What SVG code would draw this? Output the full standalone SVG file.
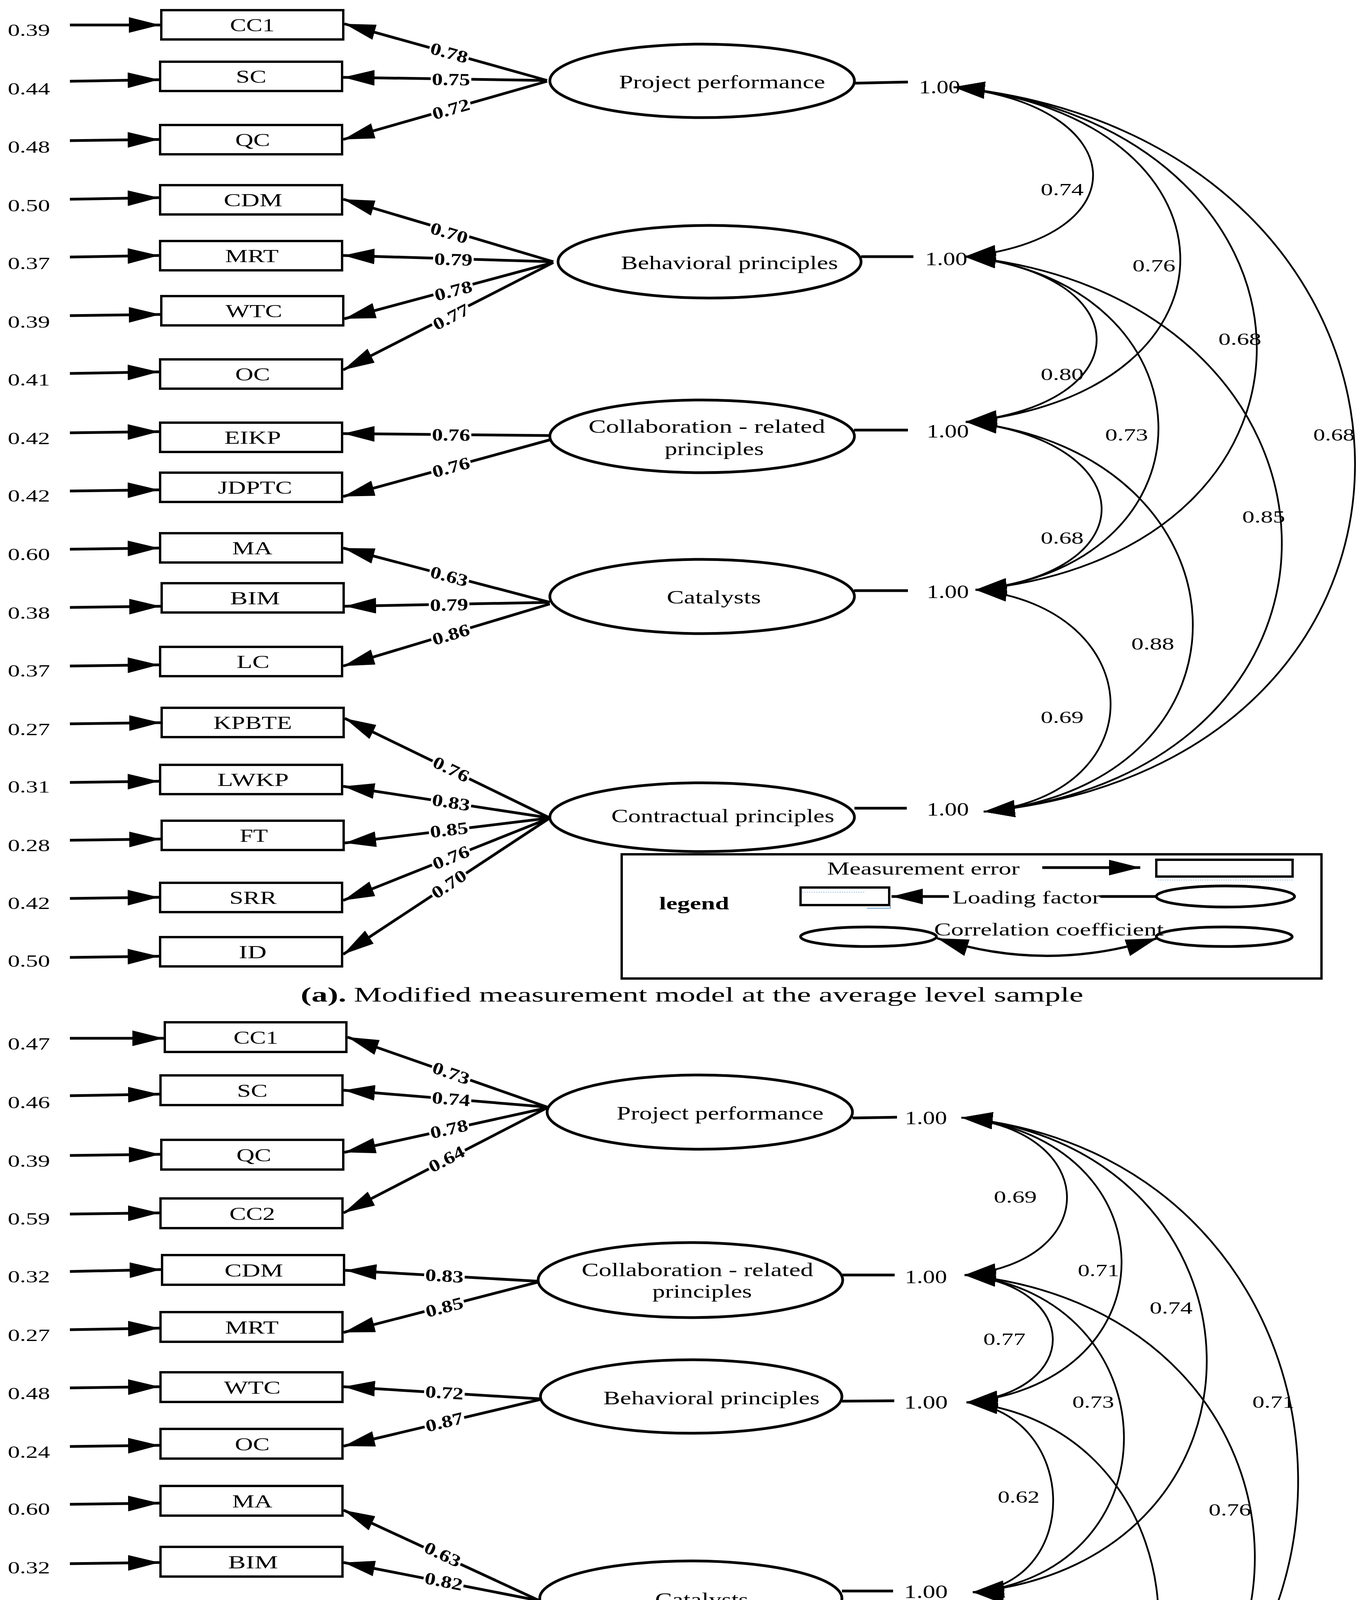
<svg xmlns="http://www.w3.org/2000/svg" width="3498" height="5303" viewBox="0 0 3498 5303">
<defs>
<style>
.bg{fill:#fff}
.box{fill:#fff;stroke:#000;stroke-width:6}
.lat{fill:#fff;stroke:#000;stroke-width:7}
.ln{fill:none;stroke:#000;stroke-width:7}
.arr{fill:none;stroke:#000;stroke-width:7;marker-end:url(#ah)}
.cor{fill:none;stroke:#000;stroke-width:4.5;marker-start:url(#ah2);marker-end:url(#ah2)}
.leg{fill:none;stroke:#000;stroke-width:6}
.t{font-family:"Liberation Serif","Times New Roman",serif;fill:#000}
.e{font-size:44px}
.b{font-size:46px;text-anchor:middle}
.l{font-size:48px;text-anchor:middle}
.n{font-size:48px}
.c{font-size:44px}
.k{font-size:44px;text-anchor:middle;font-weight:bold}
.g{font-size:46px}
.cap{font-size:52px}
.bold{font-weight:bold}
.mask{fill:#fff}
.blue{fill:none;stroke:#5b9bd5;stroke-width:2}
.bluedot{fill:none;stroke:#9dc3e6;stroke-width:2;stroke-dasharray:3 3}
</style>
<marker id="ah" viewBox="0 0 80 40" refX="80" refY="20" markerWidth="80" markerHeight="40" markerUnits="userSpaceOnUse" orient="auto"><path d="M0 0L80 20L0 40Z" fill="#000"/></marker>
<marker id="ah2" viewBox="0 0 80 44" refX="80" refY="22" markerWidth="80" markerHeight="44" markerUnits="userSpaceOnUse" orient="auto-start-reverse"><path d="M0 0L80 22L0 44Z" fill="#000"/></marker>
</defs>
<rect class="bg" width="3498" height="5303"/>

<g id="connectors">
<line class="arr" x1="179" y1="64" x2="410" y2="64"/>
<line class="arr" x1="179" y1="208" x2="407" y2="204"/>
<line class="arr" x1="179" y1="360" x2="407" y2="357"/>
<line class="arr" x1="179" y1="510" x2="407" y2="506"/>
<line class="arr" x1="179" y1="658" x2="407" y2="654"/>
<line class="arr" x1="179" y1="808" x2="410" y2="805"/>
<line class="arr" x1="179" y1="956" x2="407" y2="952"/>
<line class="arr" x1="179" y1="1108" x2="407" y2="1105"/>
<line class="arr" x1="179" y1="1257" x2="407" y2="1254"/>
<line class="arr" x1="179" y1="1406" x2="407" y2="1403"/>
<line class="arr" x1="179" y1="1555" x2="411" y2="1552"/>
<line class="arr" x1="179" y1="1705" x2="407" y2="1702"/>
<line class="arr" x1="179" y1="1853" x2="411" y2="1850"/>
<line class="arr" x1="179" y1="2003" x2="407" y2="2000"/>
<line class="arr" x1="179" y1="2151" x2="411" y2="2148"/>
<line class="arr" x1="179" y1="2300" x2="407" y2="2297"/>
<line class="arr" x1="179" y1="2451" x2="407" y2="2448"/>
<line class="arr" x1="179" y1="2658" x2="419" y2="2658"/>
<line class="arr" x1="179" y1="2805" x2="408" y2="2801"/>
<line class="arr" x1="179" y1="2958" x2="410" y2="2955"/>
<line class="arr" x1="179" y1="3108" x2="408" y2="3105"/>
<line class="arr" x1="179" y1="3255" x2="412" y2="3250"/>
<line class="arr" x1="179" y1="3404" x2="408" y2="3400"/>
<line class="arr" x1="179" y1="3553" x2="408" y2="3550"/>
<line class="arr" x1="179" y1="3703" x2="408" y2="3700"/>
<line class="arr" x1="179" y1="3851" x2="408" y2="3848"/>
<line class="arr" x1="179" y1="4003" x2="408" y2="4000"/>
<line class="arr" x1="179" y1="4150" x2="408" y2="4147"/>
<line class="arr" x1="179" y1="4298" x2="408" y2="4295"/>
<line class="arr" x1="179" y1="4449" x2="411" y2="4446"/>
<line class="arr" x1="179" y1="4597" x2="410" y2="4594"/>
<line class="arr" x1="179" y1="4746" x2="407" y2="4743"/>
<line class="arr" x1="179" y1="4896" x2="418" y2="4893"/>
<line class="arr" x1="179" y1="5045" x2="408" y2="5042"/>
<line class="arr" x1="179" y1="5163" x2="412" y2="5160"/>

<line class="arr" x1="1401" y1="206" x2="882" y2="61"/>
<line class="arr" x1="1401" y1="206" x2="879" y2="198"/>
<line class="arr" x1="1401" y1="208" x2="879" y2="357"/>
<line class="arr" x1="1417" y1="670" x2="879" y2="510"/>
<line class="arr" x1="1417" y1="670" x2="879" y2="654"/>
<line class="arr" x1="1417" y1="672" x2="882" y2="816"/>
<line class="arr" x1="1417" y1="672" x2="879" y2="947"/>
<line class="arr" x1="1408" y1="1115" x2="879" y2="1110"/>
<line class="arr" x1="1408" y1="1126" x2="879" y2="1271"/>
<line class="arr" x1="1408" y1="1542" x2="879" y2="1403"/>
<line class="arr" x1="1408" y1="1542" x2="883" y2="1552"/>
<line class="arr" x1="1408" y1="1546" x2="879" y2="1705"/>
<line class="arr" x1="1408" y1="2094" x2="883" y2="1839"/>
<line class="arr" x1="1408" y1="2094" x2="879" y2="2013"/>
<line class="arr" x1="1408" y1="2094" x2="883" y2="2158"/>
<line class="arr" x1="1408" y1="2094" x2="879" y2="2305"/>
<line class="arr" x1="1408" y1="2094" x2="879" y2="2443"/>
<line class="arr" x1="1401" y1="2834" x2="890" y2="2655"/>
<line class="arr" x1="1401" y1="2834" x2="880" y2="2791"/>
<line class="arr" x1="1401" y1="2836" x2="882" y2="2950"/>
<line class="arr" x1="1401" y1="2836" x2="880" y2="3105"/>
<line class="arr" x1="1378" y1="3280" x2="884" y2="3252"/>
<line class="arr" x1="1378" y1="3282" x2="880" y2="3411"/>
<line class="arr" x1="1382" y1="3581" x2="880" y2="3550"/>
<line class="arr" x1="1382" y1="3583" x2="880" y2="3702"/>
<line class="arr" x1="1382" y1="4098" x2="880" y2="3866"/>
<line class="arr" x1="1382" y1="4098" x2="880" y2="4000"/>
<line class="arr" x1="1382" y1="4100" x2="880" y2="4148"/>
<line class="arr" x1="1382" y1="4100" x2="880" y2="4299"/>
<line class="arr" x1="1382" y1="4673" x2="883" y2="4433"/>
<line class="arr" x1="1382" y1="4673" x2="882" y2="4594"/>
<line class="arr" x1="1382" y1="4675" x2="879" y2="4755"/>
<line class="arr" x1="1382" y1="4675" x2="890" y2="4899"/>
<line class="arr" x1="1382" y1="4675" x2="880" y2="5038"/>
<line class="arr" x1="1382" y1="4675" x2="884" y2="5152"/>

<line class="ln" x1="2187" y1="213" x2="2325" y2="210"/>
<line class="ln" x1="2205" y1="657" x2="2339" y2="657"/>
<line class="ln" x1="2187" y1="1101" x2="2325" y2="1101"/>
<line class="ln" x1="2187" y1="1512" x2="2325" y2="1512"/>
<line class="ln" x1="2188" y1="2069" x2="2322" y2="2069"/>
<line class="ln" x1="2183" y1="2862" x2="2297" y2="2860"/>
<line class="ln" x1="2157" y1="3264" x2="2291" y2="3264"/>
<line class="ln" x1="2156" y1="3587" x2="2290" y2="3586"/>
<line class="ln" x1="2156" y1="4073" x2="2287" y2="4073"/>
<line class="ln" x1="2156" y1="4678" x2="2296" y2="4677"/>

<path class="cor" d="M2442 223C2899 269 2927 611 2470 657"/>
<path class="cor" d="M2442 223C3195 298 3226 1005 2473 1080"/>
<path class="cor" d="M2442 223C3439 323 3495 1410 2498 1510"/>
<path class="cor" d="M2442 223C3760 355 3837 1946 2519 2078"/>
<path class="cor" d="M2470 657C2919 702 2922 1035 2473 1080"/>
<path class="cor" d="M2470 657C3113 721 3141 1446 2498 1510"/>
<path class="cor" d="M2470 657C3520 762 3569 1973 2519 2078"/>
<path class="cor" d="M2473 1080C2920 1125 2945 1465 2498 1510"/>
<path class="cor" d="M2473 1080C3217 1154 3263 2004 2519 2078"/>
<path class="cor" d="M2498 1510C2945 1555 2966 2033 2519 2078"/>
<path class="cor" d="M2462 2861C2817 2896 2825 3229 2470 3264"/>
<path class="cor" d="M2462 2861C3000 2915 3013 3536 2475 3590"/>
<path class="cor" d="M2462 2861C3280 2943 3309 3994 2491 4076"/>
<path class="cor" d="M2462 2861C3590 2974 3622 4572 2494 4685"/>
<path class="cor" d="M2470 3264C2768 3294 2773 3560 2475 3590"/>
<path class="cor" d="M2470 3264C3000 3317 3021 4023 2491 4076"/>
<path class="cor" d="M2470 3264C3445 3361 3469 4588 2494 4685"/>
<path class="cor" d="M2475 3590C2760 3619 2776 4047 2491 4076"/>
<path class="cor" d="M2475 3590C3118 3654 3137 4621 2494 4685"/>
<path class="cor" d="M2491 4076C2794 4106 2797 4655 2494 4685"/>

<g transform="translate(1150 136) rotate(15.4)"><rect class="mask" x="-52" y="-19" width="104" height="36"/><text class="t k" y="14" textLength="98" lengthAdjust="spacingAndGlyphs">0.78</text></g>
<g transform="translate(1155 204) rotate(0.6)"><rect class="mask" x="-52" y="-19" width="104" height="36"/><text class="t k" y="14" textLength="98" lengthAdjust="spacingAndGlyphs">0.75</text></g>
<g transform="translate(1155 280) rotate(-15.8)"><rect class="mask" x="-52" y="-19" width="104" height="36"/><text class="t k" y="14" textLength="98" lengthAdjust="spacingAndGlyphs">0.72</text></g>
<g transform="translate(1150 597) rotate(16.6)"><rect class="mask" x="-52" y="-19" width="104" height="36"/><text class="t k" y="14" textLength="98" lengthAdjust="spacingAndGlyphs">0.70</text></g>
<g transform="translate(1161 665) rotate(1.7)"><rect class="mask" x="-52" y="-19" width="104" height="36"/><text class="t k" y="14" textLength="98" lengthAdjust="spacingAndGlyphs">0.79</text></g>
<g transform="translate(1161 745) rotate(-14.8)"><rect class="mask" x="-52" y="-19" width="104" height="36"/><text class="t k" y="14" textLength="98" lengthAdjust="spacingAndGlyphs">0.78</text></g>
<g transform="translate(1155 812) rotate(-27)"><rect class="mask" x="-52" y="-19" width="104" height="36"/><text class="t k" y="14" textLength="98" lengthAdjust="spacingAndGlyphs">0.77</text></g>
<g transform="translate(1155 1114) rotate(0.5)"><rect class="mask" x="-52" y="-19" width="104" height="36"/><text class="t k" y="14" textLength="98" lengthAdjust="spacingAndGlyphs">0.76</text></g>
<g transform="translate(1155 1197) rotate(-15.2)"><rect class="mask" x="-52" y="-19" width="104" height="36"/><text class="t k" y="14" textLength="98" lengthAdjust="spacingAndGlyphs">0.76</text></g>
<g transform="translate(1150 1476) rotate(14.8)"><rect class="mask" x="-52" y="-19" width="104" height="36"/><text class="t k" y="14" textLength="98" lengthAdjust="spacingAndGlyphs">0.63</text></g>
<g transform="translate(1150 1549) rotate(-1.1)"><rect class="mask" x="-52" y="-19" width="104" height="36"/><text class="t k" y="14" textLength="98" lengthAdjust="spacingAndGlyphs">0.79</text></g>
<g transform="translate(1155 1625) rotate(-16.6)"><rect class="mask" x="-52" y="-19" width="104" height="36"/><text class="t k" y="14" textLength="98" lengthAdjust="spacingAndGlyphs">0.86</text></g>
<g transform="translate(1155 1970) rotate(25.9)"><rect class="mask" x="-52" y="-19" width="104" height="36"/><text class="t k" y="14" textLength="98" lengthAdjust="spacingAndGlyphs">0.76</text></g>
<g transform="translate(1155 2055) rotate(8.8)"><rect class="mask" x="-52" y="-19" width="104" height="36"/><text class="t k" y="14" textLength="98" lengthAdjust="spacingAndGlyphs">0.83</text></g>
<g transform="translate(1150 2125) rotate(-6.9)"><rect class="mask" x="-52" y="-19" width="104" height="36"/><text class="t k" y="14" textLength="98" lengthAdjust="spacingAndGlyphs">0.85</text></g>
<g transform="translate(1155 2196) rotate(-21.9)"><rect class="mask" x="-52" y="-19" width="104" height="36"/><text class="t k" y="14" textLength="98" lengthAdjust="spacingAndGlyphs">0.76</text></g>
<g transform="translate(1150 2264) rotate(-33.6)"><rect class="mask" x="-52" y="-19" width="104" height="36"/><text class="t k" y="14" textLength="98" lengthAdjust="spacingAndGlyphs">0.70</text></g>
<g transform="translate(1155 2748) rotate(19.2)"><rect class="mask" x="-52" y="-19" width="104" height="36"/><text class="t k" y="14" textLength="98" lengthAdjust="spacingAndGlyphs">0.73</text></g>
<g transform="translate(1155 2814) rotate(4.7)"><rect class="mask" x="-52" y="-19" width="104" height="36"/><text class="t k" y="14" textLength="98" lengthAdjust="spacingAndGlyphs">0.74</text></g>
<g transform="translate(1150 2891) rotate(-12.6)"><rect class="mask" x="-52" y="-19" width="104" height="36"/><text class="t k" y="14" textLength="98" lengthAdjust="spacingAndGlyphs">0.78</text></g>
<g transform="translate(1144 2968) rotate(-27.6)"><rect class="mask" x="-52" y="-19" width="104" height="36"/><text class="t k" y="14" textLength="98" lengthAdjust="spacingAndGlyphs">0.64</text></g>
<g transform="translate(1138 3267) rotate(3.2)"><rect class="mask" x="-52" y="-19" width="104" height="36"/><text class="t k" y="14" textLength="98" lengthAdjust="spacingAndGlyphs">0.83</text></g>
<g transform="translate(1138 3347) rotate(-14.8)"><rect class="mask" x="-52" y="-19" width="104" height="36"/><text class="t k" y="14" textLength="98" lengthAdjust="spacingAndGlyphs">0.85</text></g>
<g transform="translate(1138 3566) rotate(3.5)"><rect class="mask" x="-52" y="-19" width="104" height="36"/><text class="t k" y="14" textLength="98" lengthAdjust="spacingAndGlyphs">0.72</text></g>
<g transform="translate(1138 3641) rotate(-13.6)"><rect class="mask" x="-52" y="-19" width="104" height="36"/><text class="t k" y="14" textLength="98" lengthAdjust="spacingAndGlyphs">0.87</text></g>
<g transform="translate(1133 3980) rotate(24.9)"><rect class="mask" x="-52" y="-19" width="104" height="36"/><text class="t k" y="14" textLength="98" lengthAdjust="spacingAndGlyphs">0.63</text></g>
<g transform="translate(1136 4049) rotate(11.1)"><rect class="mask" x="-52" y="-19" width="104" height="36"/><text class="t k" y="14" textLength="98" lengthAdjust="spacingAndGlyphs">0.82</text></g>
<g transform="translate(1141 4123) rotate(-5.7)"><rect class="mask" x="-52" y="-19" width="104" height="36"/><text class="t k" y="14" textLength="98" lengthAdjust="spacingAndGlyphs">0.86</text></g>
<g transform="translate(1136 4198) rotate(-21.9)"><rect class="mask" x="-52" y="-19" width="104" height="36"/><text class="t k" y="14" textLength="98" lengthAdjust="spacingAndGlyphs">0.59</text></g>
<g transform="translate(1144 4558) rotate(25.6)"><rect class="mask" x="-52" y="-19" width="104" height="36"/><text class="t k" y="14" textLength="98" lengthAdjust="spacingAndGlyphs">0.79</text></g>
<g transform="translate(1138 4635) rotate(9)"><rect class="mask" x="-52" y="-19" width="104" height="36"/><text class="t k" y="14" textLength="98" lengthAdjust="spacingAndGlyphs">0.87</text></g>
<g transform="translate(1138 4716) rotate(-9.3)"><rect class="mask" x="-52" y="-19" width="104" height="36"/><text class="t k" y="14" textLength="98" lengthAdjust="spacingAndGlyphs">0.73</text></g>
<g transform="translate(1133 4790) rotate(-24.5)"><rect class="mask" x="-52" y="-19" width="104" height="36"/><text class="t k" y="14" textLength="98" lengthAdjust="spacingAndGlyphs">0.83</text></g>
<g transform="translate(1133 4854) rotate(-36.1)"><rect class="mask" x="-52" y="-19" width="104" height="36"/><text class="t k" y="14" textLength="98" lengthAdjust="spacingAndGlyphs">0.73</text></g>
<g transform="translate(1133 4912) rotate(-43.8)"><rect class="mask" x="-52" y="-19" width="104" height="36"/><text class="t k" y="14" textLength="98" lengthAdjust="spacingAndGlyphs">0.70</text></g>

<text class="t c" x="2665" y="500" textLength="110" lengthAdjust="spacingAndGlyphs">0.74</text>
<text class="t c" x="2900" y="695" textLength="110" lengthAdjust="spacingAndGlyphs">0.76</text>
<text class="t c" x="3120" y="883" textLength="110" lengthAdjust="spacingAndGlyphs">0.68</text>
<text class="t c" x="2665" y="973" textLength="110" lengthAdjust="spacingAndGlyphs">0.80</text>
<text class="t c" x="2830" y="1128" textLength="110" lengthAdjust="spacingAndGlyphs">0.73</text>
<text class="t c" x="3363" y="1128" textLength="106" lengthAdjust="spacingAndGlyphs">0.68</text>
<text class="t c" x="3181" y="1338" textLength="110" lengthAdjust="spacingAndGlyphs">0.85</text>
<text class="t c" x="2665" y="1392" textLength="110" lengthAdjust="spacingAndGlyphs">0.68</text>
<text class="t c" x="2897" y="1663" textLength="110" lengthAdjust="spacingAndGlyphs">0.88</text>
<text class="t c" x="2665" y="1851" textLength="110" lengthAdjust="spacingAndGlyphs">0.69</text>
<text class="t c" x="2545" y="3079" textLength="110" lengthAdjust="spacingAndGlyphs">0.69</text>
<text class="t c" x="2760" y="3267" textLength="106" lengthAdjust="spacingAndGlyphs">0.71</text>
<text class="t c" x="2944" y="3363" textLength="110" lengthAdjust="spacingAndGlyphs">0.74</text>
<text class="t c" x="2518" y="3443" textLength="108" lengthAdjust="spacingAndGlyphs">0.77</text>
<text class="t c" x="2746" y="3604" textLength="107" lengthAdjust="spacingAndGlyphs">0.73</text>
<text class="t c" x="3207" y="3604" textLength="108" lengthAdjust="spacingAndGlyphs">0.71</text>
<text class="t c" x="2555" y="3847" textLength="107" lengthAdjust="spacingAndGlyphs">0.62</text>
<text class="t c" x="3095" y="3880" textLength="109" lengthAdjust="spacingAndGlyphs">0.76</text>
<text class="t c" x="2812" y="4140" textLength="111" lengthAdjust="spacingAndGlyphs">0.80</text>
<text class="t c" x="2545" y="4401" textLength="108" lengthAdjust="spacingAndGlyphs">0.72</text>
</g>

<g id="a_CC1"><rect class="box" x="413" y="26" width="466" height="75"/><text class="t b" x="646" y="80" textLength="114" lengthAdjust="spacingAndGlyphs">CC1</text><text class="t e" x="20" y="92" textLength="108" lengthAdjust="spacingAndGlyphs">0.39</text></g>
<g id="a_SC"><rect class="box" x="410" y="158" width="466" height="75"/><text class="t b" x="643" y="212" textLength="78" lengthAdjust="spacingAndGlyphs">SC</text><text class="t e" x="20" y="242" textLength="108" lengthAdjust="spacingAndGlyphs">0.44</text></g>
<g id="a_QC"><rect class="box" x="410" y="320" width="466" height="75"/><text class="t b" x="647" y="374" textLength="89" lengthAdjust="spacingAndGlyphs">QC</text><text class="t e" x="20" y="391" textLength="108" lengthAdjust="spacingAndGlyphs">0.48</text></g>
<g id="a_CDM"><rect class="box" x="410" y="474" width="466" height="75"/><text class="t b" x="648" y="528" textLength="150" lengthAdjust="spacingAndGlyphs">CDM</text><text class="t e" x="20" y="541" textLength="108" lengthAdjust="spacingAndGlyphs">0.50</text></g>
<g id="a_MRT"><rect class="box" x="410" y="617" width="466" height="75"/><text class="t b" x="645" y="671" textLength="137" lengthAdjust="spacingAndGlyphs">MRT</text><text class="t e" x="20" y="689" textLength="108" lengthAdjust="spacingAndGlyphs">0.37</text></g>
<g id="a_WTC"><rect class="box" x="413" y="758" width="466" height="75"/><text class="t b" x="650" y="812" textLength="145" lengthAdjust="spacingAndGlyphs">WTC</text><text class="t e" x="20" y="839" textLength="108" lengthAdjust="spacingAndGlyphs">0.39</text></g>
<g id="a_OC"><rect class="box" x="410" y="920" width="466" height="75"/><text class="t b" x="647" y="974" textLength="89" lengthAdjust="spacingAndGlyphs">OC</text><text class="t e" x="20" y="987" textLength="108" lengthAdjust="spacingAndGlyphs">0.41</text></g>
<g id="a_EIKP"><rect class="box" x="410" y="1082" width="466" height="75"/><text class="t b" x="647" y="1136" textLength="145" lengthAdjust="spacingAndGlyphs">EIKP</text><text class="t e" x="20" y="1137" textLength="108" lengthAdjust="spacingAndGlyphs">0.42</text></g>
<g id="a_JDPTC"><rect class="box" x="410" y="1210" width="466" height="75"/><text class="t b" x="653" y="1264" textLength="190" lengthAdjust="spacingAndGlyphs">JDPTC</text><text class="t e" x="20" y="1284" textLength="108" lengthAdjust="spacingAndGlyphs">0.42</text></g>
<g id="a_MA"><rect class="box" x="410" y="1365" width="466" height="75"/><text class="t b" x="646" y="1419" textLength="103" lengthAdjust="spacingAndGlyphs">MA</text><text class="t e" x="20" y="1434" textLength="108" lengthAdjust="spacingAndGlyphs">0.60</text></g>
<g id="a_BIM"><rect class="box" x="414" y="1493" width="466" height="75"/><text class="t b" x="653" y="1547" textLength="128" lengthAdjust="spacingAndGlyphs">BIM</text><text class="t e" x="20" y="1584" textLength="108" lengthAdjust="spacingAndGlyphs">0.38</text></g>
<g id="a_LC"><rect class="box" x="410" y="1656" width="466" height="75"/><text class="t b" x="648" y="1710" textLength="84" lengthAdjust="spacingAndGlyphs">LC</text><text class="t e" x="20" y="1732" textLength="108" lengthAdjust="spacingAndGlyphs">0.37</text></g>
<g id="a_KPBTE"><rect class="box" x="414" y="1812" width="466" height="75"/><text class="t b" x="647" y="1866" textLength="201" lengthAdjust="spacingAndGlyphs">KPBTE</text><text class="t e" x="20" y="1882" textLength="108" lengthAdjust="spacingAndGlyphs">0.27</text></g>
<g id="a_LWKP"><rect class="box" x="410" y="1958" width="466" height="75"/><text class="t b" x="648" y="2012" textLength="183" lengthAdjust="spacingAndGlyphs">LWKP</text><text class="t e" x="20" y="2029" textLength="108" lengthAdjust="spacingAndGlyphs">0.31</text></g>
<g id="a_FT"><rect class="box" x="414" y="2101" width="466" height="75"/><text class="t b" x="650" y="2155" textLength="72" lengthAdjust="spacingAndGlyphs">FT</text><text class="t e" x="20" y="2179" textLength="108" lengthAdjust="spacingAndGlyphs">0.28</text></g>
<g id="a_SRR"><rect class="box" x="410" y="2260" width="466" height="75"/><text class="t b" x="648" y="2314" textLength="121" lengthAdjust="spacingAndGlyphs">SRR</text><text class="t e" x="20" y="2327" textLength="108" lengthAdjust="spacingAndGlyphs">0.42</text></g>
<g id="a_ID"><rect class="box" x="410" y="2399" width="466" height="75"/><text class="t b" x="647" y="2453" textLength="71" lengthAdjust="spacingAndGlyphs">ID</text><text class="t e" x="20" y="2475" textLength="108" lengthAdjust="spacingAndGlyphs">0.50</text></g>

<g id="a_PP"><ellipse class="lat" cx="1798" cy="207" rx="390" ry="94"/><text class="t l" x="1849" y="226" textLength="528" lengthAdjust="spacingAndGlyphs">Project performance</text><text class="t n" x="2353" y="239" textLength="106" lengthAdjust="spacingAndGlyphs">1.00</text></g>
<g id="a_BP"><ellipse class="lat" cx="1817" cy="670" rx="388" ry="93"/><text class="t l" x="1868" y="689" textLength="556" lengthAdjust="spacingAndGlyphs">Behavioral principles</text><text class="t n" x="2369" y="679" textLength="108" lengthAdjust="spacingAndGlyphs">1.00</text></g>
<g id="a_CRP"><ellipse class="lat" cx="1798" cy="1117" rx="390" ry="93"/><text class="t l" x="1810" y="1108" textLength="606" lengthAdjust="spacingAndGlyphs">Collaboration - related</text><text class="t l" x="1829" y="1165" textLength="254" lengthAdjust="spacingAndGlyphs">principles</text><text class="t n" x="2373" y="1120" textLength="108" lengthAdjust="spacingAndGlyphs">1.00</text></g>
<g id="a_CAT"><ellipse class="lat" cx="1798" cy="1527" rx="390" ry="95"/><text class="t l" x="1828" y="1545" textLength="241" lengthAdjust="spacingAndGlyphs">Catalysts</text><text class="t n" x="2373" y="1531" textLength="108" lengthAdjust="spacingAndGlyphs">1.00</text></g>
<g id="a_CP"><ellipse class="lat" cx="1798" cy="2092" rx="390" ry="88"/><text class="t l" x="1851" y="2105" textLength="571" lengthAdjust="spacingAndGlyphs">Contractual principles</text><text class="t n" x="2373" y="2088" textLength="108" lengthAdjust="spacingAndGlyphs">1.00</text></g>

<g id="a_legend">
<rect class="leg" x="1592" y="2187" width="1792" height="318"/>
<text class="t g bold" x="1688" y="2328" textLength="179" lengthAdjust="spacingAndGlyphs">legend</text>
<text class="t g" x="2118" y="2239" textLength="493" lengthAdjust="spacingAndGlyphs">Measurement error</text>
<line class="arr" x1="2669" y1="2221" x2="2920" y2="2221"/>
<rect class="leg" x="2961" y="2201" width="349" height="43"/>
<line class="bluedot" x1="2965" y1="2253" x2="3311" y2="2253"/>
<rect class="leg" x="2050" y="2272" width="227" height="45"/>
<line class="bluedot" x1="2054" y1="2284" x2="2213" y2="2284"/>
<path class="blue" d="M2220 2325H2280V2318"/>
<line class="arr" x1="2430" y1="2295" x2="2283" y2="2295"/>
<text class="t g" x="2439" y="2313" textLength="379" lengthAdjust="spacingAndGlyphs">Loading factor</text>
<line class="ln" x1="2818" y1="2295" x2="2961" y2="2295"/>
<ellipse class="lat" cx="3138" cy="2295" rx="177" ry="27"/>
<ellipse class="lat" cx="2224" cy="2398" rx="174" ry="25"/>
<ellipse class="lat" cx="3135" cy="2398" rx="174" ry="25"/>
<path class="cor" style="stroke-width:6" d="M2400 2402Q2682 2492 2963 2402"/>
<text class="t g" x="2392" y="2395" textLength="588" lengthAdjust="spacingAndGlyphs">Correlation coefficient</text>
</g>
<g id="a_caption"><text class="t cap bold" x="770" y="2564" textLength="117" lengthAdjust="spacingAndGlyphs">(a).</text><text class="t cap" x="906" y="2564" textLength="1868" lengthAdjust="spacingAndGlyphs">Modified measurement model at the average level sample</text></g>

<g id="b_CC1"><rect class="box" x="422" y="2617" width="465" height="76"/><text class="t b" x="655" y="2672" textLength="114" lengthAdjust="spacingAndGlyphs">CC1</text><text class="t e" x="20" y="2687" textLength="108" lengthAdjust="spacingAndGlyphs">0.47</text></g>
<g id="b_SC"><rect class="box" x="411" y="2753" width="466" height="76"/><text class="t b" x="646" y="2808" textLength="78" lengthAdjust="spacingAndGlyphs">SC</text><text class="t e" x="20" y="2837" textLength="108" lengthAdjust="spacingAndGlyphs">0.46</text></g>
<g id="b_QC"><rect class="box" x="413" y="2918" width="466" height="76"/><text class="t b" x="650" y="2973" textLength="89" lengthAdjust="spacingAndGlyphs">QC</text><text class="t e" x="20" y="2987" textLength="108" lengthAdjust="spacingAndGlyphs">0.39</text></g>
<g id="b_CC2"><rect class="box" x="411" y="3068" width="466" height="76"/><text class="t b" x="646" y="3123" textLength="117" lengthAdjust="spacingAndGlyphs">CC2</text><text class="t e" x="20" y="3135" textLength="108" lengthAdjust="spacingAndGlyphs">0.59</text></g>
<g id="b_CDM"><rect class="box" x="415" y="3213" width="466" height="76"/><text class="t b" x="650" y="3268" textLength="150" lengthAdjust="spacingAndGlyphs">CDM</text><text class="t e" x="20" y="3283" textLength="108" lengthAdjust="spacingAndGlyphs">0.32</text></g>
<g id="b_MRT"><rect class="box" x="411" y="3359" width="466" height="76"/><text class="t b" x="645" y="3414" textLength="137" lengthAdjust="spacingAndGlyphs">MRT</text><text class="t e" x="20" y="3433" textLength="108" lengthAdjust="spacingAndGlyphs">0.27</text></g>
<g id="b_WTC"><rect class="box" x="411" y="3513" width="466" height="76"/><text class="t b" x="646" y="3568" textLength="145" lengthAdjust="spacingAndGlyphs">WTC</text><text class="t e" x="20" y="3582" textLength="108" lengthAdjust="spacingAndGlyphs">0.48</text></g>
<g id="b_OC"><rect class="box" x="411" y="3658" width="466" height="76"/><text class="t b" x="646" y="3713" textLength="89" lengthAdjust="spacingAndGlyphs">OC</text><text class="t e" x="20" y="3732" textLength="108" lengthAdjust="spacingAndGlyphs">0.24</text></g>
<g id="b_MA"><rect class="box" x="411" y="3804" width="466" height="76"/><text class="t b" x="646" y="3859" textLength="103" lengthAdjust="spacingAndGlyphs">MA</text><text class="t e" x="20" y="3878" textLength="108" lengthAdjust="spacingAndGlyphs">0.60</text></g>
<g id="b_BIM"><rect class="box" x="411" y="3960" width="466" height="76"/><text class="t b" x="648" y="4015" textLength="128" lengthAdjust="spacingAndGlyphs">BIM</text><text class="t e" x="20" y="4028" textLength="108" lengthAdjust="spacingAndGlyphs">0.32</text></g>
<g id="b_LC"><rect class="box" x="411" y="4105" width="466" height="76"/><text class="t b" x="646" y="4160" textLength="84" lengthAdjust="spacingAndGlyphs">LC</text><text class="t e" x="20" y="4178" textLength="108" lengthAdjust="spacingAndGlyphs">0.26</text></g>
<g id="b_CT"><rect class="box" x="411" y="4244" width="466" height="75"/><text class="t b" x="646" y="4298" textLength="80" lengthAdjust="spacingAndGlyphs">CT</text><text class="t e" x="20" y="4325" textLength="108" lengthAdjust="spacingAndGlyphs">0.65</text></g>
<g id="b_KPBTE"><rect class="box" x="414" y="4405" width="466" height="76"/><text class="t b" x="640" y="4460" textLength="201" lengthAdjust="spacingAndGlyphs">KPBTE</text><text class="t e" x="20" y="4475" textLength="108" lengthAdjust="spacingAndGlyphs">0.38</text></g>
<g id="b_LWKP"><rect class="box" x="413" y="4559" width="466" height="77"/><text class="t b" x="666" y="4615" textLength="182" lengthAdjust="spacingAndGlyphs">LWKP</text><text class="t e" x="20" y="4625" textLength="108" lengthAdjust="spacingAndGlyphs">0.25</text><line class="bluedot" x1="419" y1="4569" x2="666" y2="4569"/><path class="blue" d="M666 4643H884V4608"/></g>
<g id="b_EIKP"><rect class="box" x="410" y="4695" width="466" height="77"/><text class="t b" x="647" y="4751" textLength="145" lengthAdjust="spacingAndGlyphs">EIKP</text><text class="t e" x="20" y="4775" textLength="108" lengthAdjust="spacingAndGlyphs">0.47</text></g>
<g id="b_FT"><rect class="box" x="421" y="4846" width="466" height="78"/><text class="t b" x="654" y="4902" textLength="72" lengthAdjust="spacingAndGlyphs">FT</text><text class="t e" x="20" y="4924" textLength="108" lengthAdjust="spacingAndGlyphs">0.31</text></g>
<g id="b_JDPTC"><rect class="box" x="411" y="4989" width="466" height="78"/><text class="t b" x="637" y="5045" textLength="190" lengthAdjust="spacingAndGlyphs">JDPTC</text><text class="t e" x="20" y="5073" textLength="108" lengthAdjust="spacingAndGlyphs">0.46</text></g>
<g id="b_SRR"><rect class="box" x="415" y="5116" width="466" height="78"/><text class="t b" x="651" y="5172" textLength="121" lengthAdjust="spacingAndGlyphs">SRR</text><text class="t e" x="20" y="5191" textLength="108" lengthAdjust="spacingAndGlyphs">0.51</text></g>

<g id="b_PP"><ellipse class="lat" cx="1792" cy="2847" rx="391" ry="95"/><text class="t l" x="1844" y="2866" textLength="530" lengthAdjust="spacingAndGlyphs">Project performance</text><text class="t n" x="2317" y="2878" textLength="108" lengthAdjust="spacingAndGlyphs">1.00</text></g>
<g id="b_CRP"><ellipse class="lat" cx="1768" cy="3277" rx="390" ry="96"/><text class="t l" x="1786" y="3267" textLength="593" lengthAdjust="spacingAndGlyphs">Collaboration - related</text><text class="t l" x="1798" y="3322" textLength="255" lengthAdjust="spacingAndGlyphs">principles</text><text class="t n" x="2317" y="3285" textLength="108" lengthAdjust="spacingAndGlyphs">1.00</text></g>
<g id="b_BP"><ellipse class="lat" cx="1770" cy="3575" rx="386" ry="94"/><text class="t l" x="1822" y="3595" textLength="554" lengthAdjust="spacingAndGlyphs">Behavioral principles</text><text class="t n" x="2315" y="3606" textLength="112" lengthAdjust="spacingAndGlyphs">1.00</text></g>
<g id="b_CAT"><ellipse class="lat" cx="1769" cy="4092" rx="387" ry="96"/><text class="t l" x="1797" y="4111" textLength="239" lengthAdjust="spacingAndGlyphs">Catalysts</text><text class="t n" x="2315" y="4091" textLength="112" lengthAdjust="spacingAndGlyphs">1.00</text></g>
<g id="b_CP"><ellipse class="lat" cx="1769" cy="4688" rx="387" ry="95"/><text class="t l" x="1822" y="4706" textLength="573" lengthAdjust="spacingAndGlyphs">Contractual principles</text><text class="t n" x="2315" y="4706" textLength="112" lengthAdjust="spacingAndGlyphs">1.00</text></g>

<g id="b_legend">
<rect class="leg" x="1538" y="4883" width="1790" height="317"/>
<line class="blue" x1="1545" y1="4893" x2="2895" y2="4893"/>
<path class="bluedot" d="M2895 5207H3330V5200"/>
<text class="t g bold" x="1634" y="5035" textLength="178" lengthAdjust="spacingAndGlyphs">legend</text>
<text class="t g" x="2067" y="4945" textLength="490" lengthAdjust="spacingAndGlyphs">Measurement error</text>
<line class="arr" x1="2602" y1="4928" x2="2857" y2="4928"/>
<rect class="leg" x="2908" y="4904" width="350" height="45"/>
<line class="bluedot" x1="2912" y1="4918" x2="3255" y2="4918"/>
<rect class="leg" x="1997" y="4978" width="229" height="43"/>
<line class="blue" x1="2000" y1="4990" x2="2224" y2="4990"/>
<line class="arr" x1="2376" y1="5000" x2="2229" y2="5000"/>
<text class="t g" x="2398" y="5016" textLength="382" lengthAdjust="spacingAndGlyphs">Loading factor</text>
<line class="ln" x1="2774" y1="5001" x2="2908" y2="5001"/>
<ellipse class="lat" cx="3086" cy="5000" rx="178" ry="29"/>
<ellipse class="lat" cx="2172" cy="5104" rx="175" ry="26"/>
<ellipse class="lat" cx="3083" cy="5104" rx="175" ry="26"/>
<path class="cor" style="stroke-width:6" d="M2347 5106Q2627 5198 2909 5106"/>
<text class="t g" x="2334" y="5100" textLength="586" lengthAdjust="spacingAndGlyphs">Correlation coefficient</text>
</g>
<g id="b_caption"><text class="t cap bold" x="828" y="5282" textLength="121" lengthAdjust="spacingAndGlyphs">(b).</text><text class="t cap" x="971" y="5282" textLength="1746" lengthAdjust="spacingAndGlyphs">Modified measurement model at the best level sample</text></g>
</svg>
